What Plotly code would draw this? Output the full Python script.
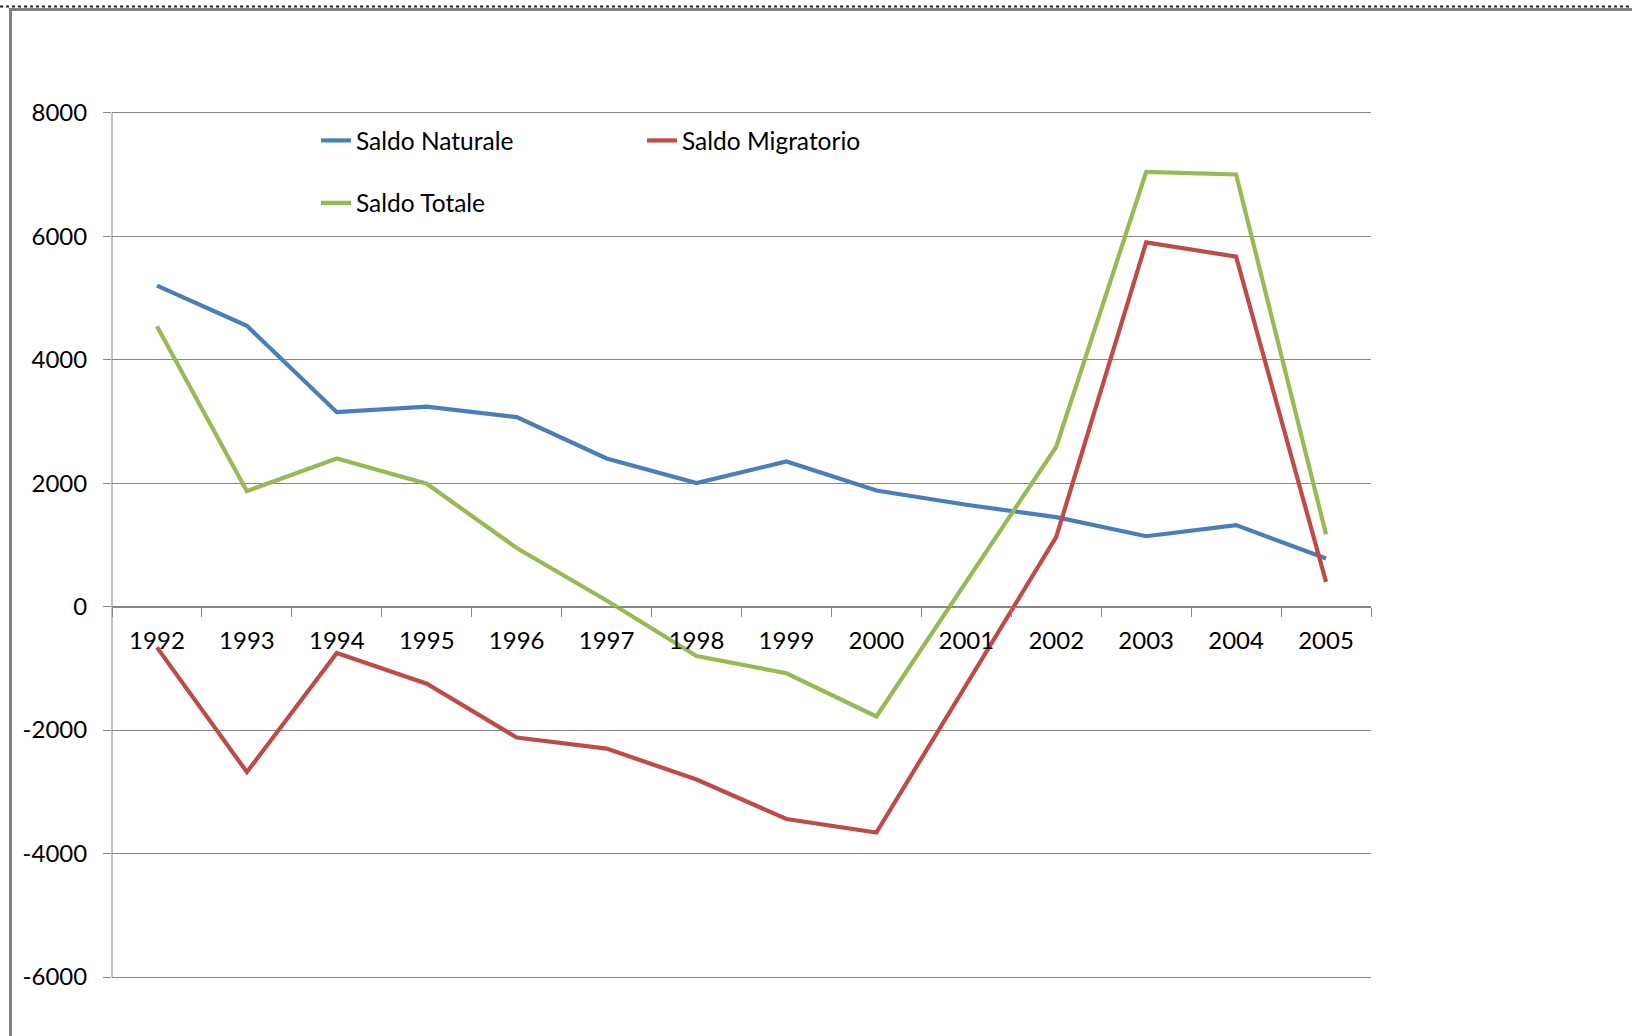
import plotly.graph_objects as go

years = ["1992", "1993", "1994", "1995", "1996", "1997", "1998",
         "1999", "2000", "2001", "2002", "2003", "2004", "2005"]
saldo_naturale = [5200, 4550, 3150, 3240, 3070, 2400, 2000, 2350, 1880, 1650, 1450, 1140, 1320, 780]
saldo_migratorio = [-660, -2680, -750, -1250, -2120, -2300, -2800, -3440, -3660, -1250, 1130, 5900, 5670, 400]
saldo_totale = [4540, 1870, 2400, 1990, 950, 100, -800, -1080, -1780, 400, 2590, 7040, 7000, 1170]

y_ticks = [-6000, -4000, -2000, 0, 2000, 4000, 6000, 8000]
y_tick_text = [str(v) for v in y_ticks]

GRID = "#868686"
TICK_FONT = dict(family="Lato, Open Sans, sans-serif", size=24, color="black")
LEG_FONT = dict(family="Lato, Open Sans, sans-serif", size=24.5, color="black")

fig = go.Figure()
fig.add_trace(go.Scatter(x=years, y=saldo_naturale, mode="lines", name="Saldo Naturale",
                         line=dict(color="#4A7EBB", width=4.2), legend="legend"))
fig.add_trace(go.Scatter(x=years, y=saldo_migratorio, mode="lines", name="Saldo Migratorio",
                         line=dict(color="#BE4B48", width=4.2), legend="legend2"))
fig.add_trace(go.Scatter(x=years, y=saldo_totale, mode="lines", name="Saldo Totale",
                         line=dict(color="#98B954", width=4.2), legend="legend3"))

L, R, T, B = 112, 261, 111, 57
W, H = 1632, 1036
pw, ph = W - L - R, H - T - B

def px(xp):
    return (xp - L) / pw

def py(yp):
    return 1 - (yp - T) / ph

leg_common = dict(font=LEG_FONT, bgcolor="rgba(0,0,0,0)", borderwidth=0,
                  xanchor="left", yanchor="middle", itemwidth=30)

fig.update_layout(
    width=W, height=H,
    margin=dict(l=L, r=R, t=T, b=B, pad=0),
    paper_bgcolor="white", plot_bgcolor="white",
    showlegend=True,
    legend=dict(x=px(316), y=py(140.5), **leg_common),
    legend2=dict(x=px(642), y=py(140.5), **leg_common),
    legend3=dict(x=px(316), y=py(203), **leg_common),
    xaxis=dict(type="category", range=[-0.5, len(years) - 0.5], anchor="free",
               position=(0 - (-6032)) / (8028 - (-6032)),
               showline=True, linecolor=GRID, linewidth=1,
               ticks="outside", ticklen=9, tickcolor=GRID, tickwidth=1,
               tickson="boundaries", showgrid=False, zeroline=False,
               tickfont=TICK_FONT, ticklabelstandoff=13),
    yaxis=dict(range=[-6032, 8028], tickvals=y_ticks, ticktext=y_tick_text,
               showline=False,
               ticks="outside", ticklen=8, tickcolor=GRID, tickwidth=1,
               showgrid=True, gridcolor=GRID, gridwidth=1, zeroline=False,
               tickfont=TICK_FONT, ticklabelstandoff=11),
    shapes=[
        dict(type="line", xref="paper", yref="paper", x0=px(0), x1=px(W), y0=py(6.5), y1=py(6.5),
             line=dict(color="#222222", width=2, dash="dot")),
        dict(type="line", xref="paper", yref="paper", x0=px(10.5), x1=px(W), y0=py(9.5), y1=py(9.5),
             line=dict(color="#808080", width=3)),
        dict(type="line", xref="paper", yref="paper", x0=px(10.5), x1=px(10.5), y0=py(8), y1=py(H),
             line=dict(color="#808080", width=3)),
        # y axis line spanning the labelled range
        dict(type="line", xref="paper", yref="y", x0=0, x1=0, y0=y_ticks[0], y1=y_ticks[-1],
             line=dict(color=GRID, width=1)),
    ],
)

fig.write_html("out.html", config={"displayModeBar": False},
               post_script="document.body.style.margin='0';")
